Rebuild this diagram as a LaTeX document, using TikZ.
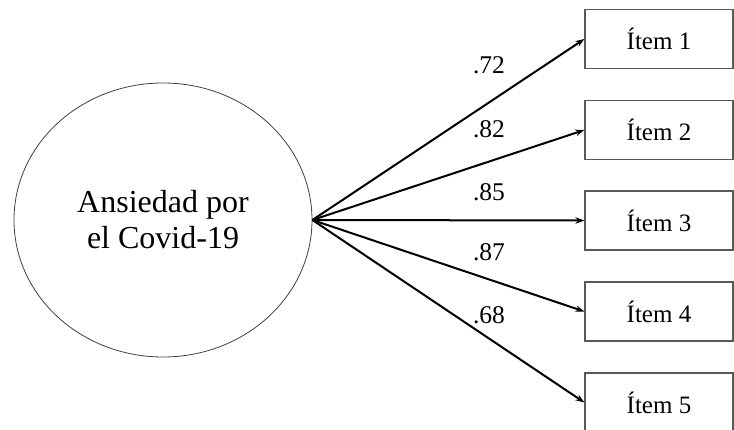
\documentclass[tikz,border=0pt]{standalone}
\usepackage{fontspec}
\setmainfont{Liberation Serif}
\usetikzlibrary{shapes.geometric,arrows.meta}
\begin{document}
\begin{tikzpicture}[x=1pt,y=-1pt,
  latent/.style={ellipse,draw=black!75,line width=0.8pt,minimum width=298pt,minimum height=274pt,inner sep=0pt,align=center,font=\fontsize{32}{36}\selectfont},
  itembox/.style={rectangle,draw=black!65,line width=1.2pt,minimum width=148pt,minimum height=59pt,inner sep=0pt,font=\fontsize{25}{30}\selectfont},
  loading/.style={-{Stealth[length=9pt,width=6.5pt]},line width=2pt,black},
  lab/.style={inner sep=0pt,font=\fontsize{25.5}{30}\selectfont}]
\useasboundingbox (0,0) rectangle (734,430);
\node[latent] (f) at (163,220) {Ansiedad por\\el Covid-19};
\node[itembox] (i1) at (659,39) {Ítem 1};
\node[itembox] (i2) at (659,130) {Ítem 2};
\node[itembox] (i3) at (659,220.5) {Ítem 3};
\node[itembox] (i4) at (659,311.5) {Ítem 4};
\node[itembox] (i5) at (659,402.5) {Ítem 5};
\foreach \i in {1,...,5}{\draw[loading] (f.east) -- (i\i.west);}
\node[lab] (l1) at (489,65) {.72};
\node[lab] (l2) at (489,129) {.82};
\node[lab] (l3) at (489,192) {.85};
\node[lab] (l4) at (489,252) {.87};
\node[lab] (l5) at (489,315) {.68};
\end{tikzpicture}
\end{document}
